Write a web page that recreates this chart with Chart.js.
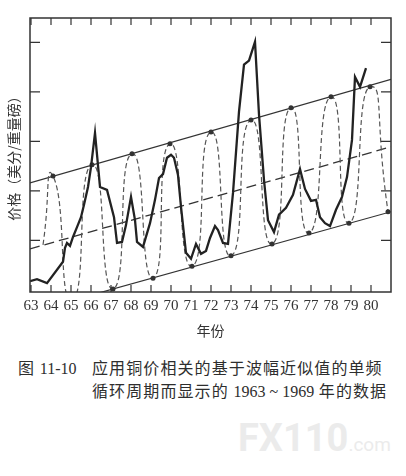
<!DOCTYPE html>
<html>
<head>
<meta charset="utf-8">
<script src="https://cdn.jsdelivr.net/npm/chart.js@4.4.0/dist/chart.umd.min.js"></script>
<style>
html, body { margin: 0; padding: 0; background: #fff; }
#wrap { position: relative; width: 406px; height: 476px; overflow: hidden; }
#box { position: absolute; left: 0; top: 0; width: 406px; height: 345px; }
.cap { position: absolute; font-family: "Noto Sans CJK SC"; font-size: 16px; color: #2e2e2e;
       white-space: nowrap; letter-spacing: 1.1px; line-height: 20px; }
.num { font-family: "Liberation Serif"; font-size: 16px; letter-spacing: 0; }
.wm { position: absolute; left: 238px; top: 416px; font-family: Roboto; font-weight: bold;
      font-size: 38px; color: #ebebeb; white-space: nowrap; }
.wm small { font-size: 19px; font-weight: normal; }
</style>
</head>
<body>
<div id="wrap">
  <div id="box"><canvas id="chart"></canvas></div>
  <div class="cap" style="left:18px; top:357px;">图 <span class="num">11-10</span></div>
  <div class="cap" style="left:92px; top:357px;">应用铜价相关的基于波幅近似值的单频</div>
  <div class="cap" style="left:92px; top:380px;">循环周期而显示的 <span class="num">1963 ~ 1969</span> 年的数据</div>
  <div class="wm">FX110<small>.com</small></div>
</div>
<script>
// copper price (solid line)
const priceYears = [62.95, 63.3, 63.8, 64.6, 64.7, 64.8, 64.95, 65.1, 65.3, 65.5, 65.65, 65.85,
  66.0, 66.2, 66.45, 66.8, 67.15, 67.3, 67.55, 67.75, 68.0, 68.2, 68.3, 68.6, 68.95, 69.2,
  69.4, 69.6, 69.8, 70.0, 70.15, 70.35, 70.5, 70.75, 71.0, 71.25, 71.5, 71.75, 71.95, 72.2,
  72.35, 72.6, 72.85, 73.1, 73.4, 73.65, 73.9, 74.2, 74.4, 74.65, 74.85, 75.15, 75.4, 75.75,
  76.1, 76.45, 76.7, 77.0, 77.25, 77.45, 77.7, 77.95, 78.25, 78.55, 78.8, 79.05, 79.2, 79.45, 79.75];
const priceValues = [0.18, 0.22, 0.14, 0.57, 0.85, 0.95, 0.89, 1.07, 1.27, 1.47, 1.72, 2.08,
  2.48, 3.17, 2.08, 2.02, 1.47, 0.95, 0.97, 1.31, 1.88, 1.41, 0.97, 0.87, 1.35, 1.82,
  2.26, 2.34, 2.67, 2.73, 2.67, 2.32, 1.68, 0.75, 0.63, 0.93, 0.73, 0.79, 1.05, 1.29,
  1.21, 0.95, 0.93, 1.96, 3.60, 4.55, 4.63, 5.01, 3.54, 2.22, 1.41, 1.17, 1.52, 1.66,
  1.92, 2.44, 2.04, 1.80, 1.82, 1.47, 1.35, 1.29, 1.62, 1.88, 2.28, 3.03, 4.30, 4.10, 4.48];

// single-frequency cycle: start, then peaks and troughs (dots)
const cycleYears = [63.6, 64.1, 65.05, 66.05, 67.1, 68.05, 69.1, 69.95, 71.05, 72.0, 73.0,
  74.0, 75.05, 76.0, 76.9, 78.0, 78.9, 79.95, 80.85];
const cycleValues = [0.91, 2.30, -0.22, 2.53, 0.02, 2.75, 0.24, 2.95, 0.48, 3.19, 0.69,
  3.43, 0.93, 3.68, 1.15, 3.90, 1.35, 4.10, 1.58];
const cycleDots = [0, 2.5, 0, 2.5, 2.5, 2.5, 2.5, 2.5, 2.5, 2.5, 2.5, 2.5, 2.5, 2.5, 2.5, 2.5, 2.5, 2.5, 2.5];

// channel lines
const channelYears = [62.95, 81.0];
const upperValues = [2.16, 4.25];
const trendValues = [0.83, 2.89];
const lowerValues = [-0.445, 1.58];

const yearTicks = [63, 64, 65, 66, 67, 68, 69, 70, 71, 72, 73, 74, 75, 76, 77, 78, 79, 80];
const priceTicks = [1, 2, 3, 4, 5];

const pts = (xs, ys) => xs.map((x, i) => ({ x: x, y: ys[i] }));

// box round the plot with short inward ticks on all four sides
const framePlugin = {
  id: 'frame',
  afterDatasetsDraw(chart) {
    const { ctx, chartArea: a, scales: { x, y } } = chart;
    ctx.save();
    ctx.strokeStyle = '#333';
    ctx.lineWidth = 1.5;
    ctx.strokeRect(a.left, a.top, a.right - a.left, a.bottom - a.top);
    ctx.lineWidth = 1.2;
    ctx.beginPath();
    x.ticks.forEach(t => {
      const px = x.getPixelForValue(t.value);
      ctx.moveTo(px, a.top); ctx.lineTo(px, a.top + 7);
      ctx.moveTo(px, a.bottom); ctx.lineTo(px, a.bottom - 7);
    });
    y.ticks.forEach(t => {
      const py = y.getPixelForValue(t.value);
      ctx.moveTo(a.left, py); ctx.lineTo(a.left + 10, py);
      ctx.moveTo(a.right, py); ctx.lineTo(a.right - 10, py);
    });
    ctx.stroke();
    ctx.restore();
  }
};

const ctx = document.getElementById('chart');
new Chart(ctx, {
  type: 'line',
  data: {
    datasets: [{
      data: pts(priceYears, priceValues),
      borderColor: '#222',
      borderWidth: 2.3,
      tension: 0,
      pointRadius: 0,
      clip: 0
    }, {
      data: pts(cycleYears, cycleValues),
      borderColor: '#555',
      borderWidth: 1.2,
      borderDash: [5, 3],
      tension: 0.75,
      pointRadius: cycleDots,
      pointBorderWidth: 0,
      pointBackgroundColor: '#333',
      clip: 0
    }, {
      data: pts(channelYears, upperValues),
      borderColor: '#333',
      borderWidth: 1.2,
      pointRadius: 0,
      clip: 0
    }, {
      data: pts(channelYears, trendValues),
      borderColor: '#333',
      borderWidth: 1.3,
      borderDash: [10, 5],
      pointRadius: 0,
      clip: 0
    }, {
      data: pts(channelYears, lowerValues),
      borderColor: '#333',
      borderWidth: 1.2,
      pointRadius: 0,
      clip: 0
    }]
  },
  options: {
    responsive: true,
    maintainAspectRatio: false,
    animation: false,
    layout: { padding: { top: 18, right: 15, left: 0, bottom: 6.2 } },
    plugins: { legend: { display: false }, tooltip: { enabled: false } },
    scales: {
      x: {
        type: 'linear',
        min: 62.95,
        max: 81.0,
        grid: { display: false, drawTicks: false },
        border: { display: false },
        afterBuildTicks: axis => { axis.ticks = yearTicks.map(v => ({ value: v })); },
        ticks: {
          autoSkip: false,
          maxRotation: 0,
          padding: 5,
          color: '#333',
          font: { family: 'Liberation Serif', size: 15 },
          callback: v => String(v)
        },
        title: {
          display: true,
          text: '年份',
          color: '#333',
          padding: { top: 2, bottom: 0 },
          font: { family: 'Noto Sans CJK SC', size: 14 }
        }
      },
      y: {
        min: -0.04,
        max: 5.49,
        grid: { display: false, drawTicks: false },
        border: { display: false },
        afterBuildTicks: axis => { axis.ticks = priceTicks.map(v => ({ value: v })); },
        ticks: { display: false },
        title: {
          display: true,
          text: '价格（美分/重量磅）',
          color: '#333',
          padding: { top: 5.6, bottom: 7.6 },
          font: { family: 'Noto Sans CJK SC', size: 14 }
        }
      }
    }
  },
  plugins: [framePlugin]
});
</script>
</body>
</html>
